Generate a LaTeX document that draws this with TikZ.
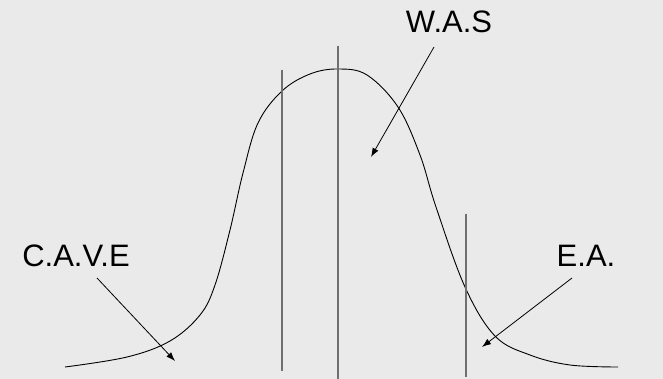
\documentclass[tikz,border=0pt]{standalone}
\usepackage{fontspec}
\setmainfont{Liberation Sans}
\usetikzlibrary{arrows.meta}
\definecolor{bg}{HTML}{EAEAEA}
\definecolor{vline}{HTML}{707070}
\begin{document}
\begin{tikzpicture}[x=1pt,y=-1pt,
  lbl/.style={anchor=base,inner sep=0pt,font=\fontsize{31}{37}\selectfont},
  pointer/.style={draw=black,line width=0.8pt,-{Latex[length=9pt,width=6.5pt]}},
  divider/.style={draw=vline,line width=1.6pt},
  bell/.style={draw=black,line width=0.9pt}]
\fill[bg] (0,0) rectangle (663,379);
\useasboundingbox (0,0) rectangle (663,379);
% bell curve
\draw[bell] plot[smooth,tension=0.6] coordinates {(65,367) (127,357) (170,341) (200,315) (215,285) (230,230) (243,173) (258,123) (282,91) (310,74) (338,69) (367,75) (398,107) (420,155) (436,207) (465,287) (495,336) (530,355) (570,365) (618,367)};
% vertical dividers
\coordinate (v1t) at (282,70); \coordinate (v1b) at (282,371);
\coordinate (v2t) at (338,46); \coordinate (v2b) at (338,379);
\coordinate (v3t) at (466,214); \coordinate (v3b) at (466,377);
\draw[divider] (v1t) -- (v1b);
\draw[divider] (v2t) -- (v2b);
\draw[divider] (v3t) -- (v3b);
% labels
\node[lbl] (was) at (449,33) {W.A.S};
\node[lbl] (cave) at (76,266) {C.A.V.E};
\node[lbl] (ea) at (586,266) {E.A.};
% arrows
\coordinate (wasS) at (434,47); \coordinate (wasE) at (371,157);
\coordinate (caveS) at (97,278); \coordinate (caveE) at (175,361);
\coordinate (eaS) at (572,278); \coordinate (eaE) at (482,347);
\draw[pointer] (wasS) -- (wasE);
\draw[pointer] (caveS) -- (caveE);
\draw[pointer] (eaS) -- (eaE);
\end{tikzpicture}
\end{document}
